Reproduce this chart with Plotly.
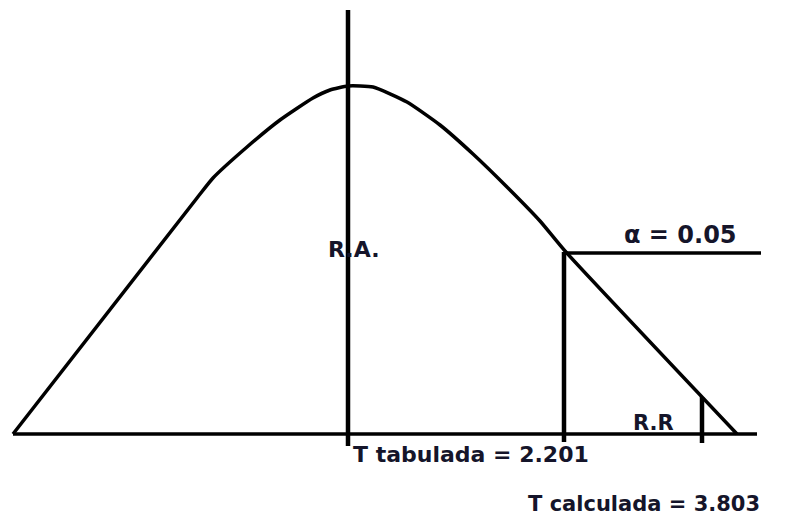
import plotly.graph_objects as go

# curve (pixel-like units, y grows downward)
curve_x = [13, 197, 213, 247, 280, 313, 330, 348, 373, 407, 440, 473, 507, 540, 565, 737]
curve_y = [434, 198, 178, 147, 120, 98, 90, 86, 87, 102, 125, 154, 187, 221, 251, 434]

baseline_x = [13, 757]
baseline_y = [434, 434]

center_x = [348, 348]
center_y = [10, 446]

t_tab_x = [564, 564]
t_tab_y = [252, 442]

alpha_x = [564, 761]
alpha_y = [253, 253]

rr_x = [702, 702]
rr_y = [397, 443]

labels = ["R.A.", "\u03b1 = 0.05", "R.R", "T tabulada = 2.201", "T calculada = 3.803"]
label_x = [326, 622, 631, 351, 526]
label_y = [249, 235, 423, 454, 504]
label_size = [22, 24, 21, 22, 21]

fig = go.Figure()

fig.add_trace(go.Scatter(x=curve_x, y=curve_y, mode='lines',
                         line=dict(color='black', width=3.5, shape='spline', smoothing=0.5)))
for xs, ys, w in [(baseline_x, baseline_y, 3.5), (center_x, center_y, 4.5),
                  (t_tab_x, t_tab_y, 4.5), (alpha_x, alpha_y, 3.5), (rr_x, rr_y, 4.5)]:
    fig.add_trace(go.Scatter(x=xs, y=ys, mode='lines', line=dict(color='black', width=w)))

for txt, x, y, s in zip(labels, label_x, label_y, label_size):
    fig.add_annotation(x=x, y=y, text='<b>' + txt + '</b>', showarrow=False,
                       xanchor='left', yanchor='middle',
                       font=dict(family='DejaVu Sans', size=s, color='#15152a'))

# page has an 8px body margin, so the figure starts at (8, 8)
fig.update_xaxes(range=[8, 785], visible=False)
fig.update_yaxes(range=[515, 8], visible=False)
fig.update_layout(width=777, height=507, margin=dict(l=0, r=0, t=0, b=0),
                  showlegend=False, plot_bgcolor='white', paper_bgcolor='white')

fig.write_html("out.html")
